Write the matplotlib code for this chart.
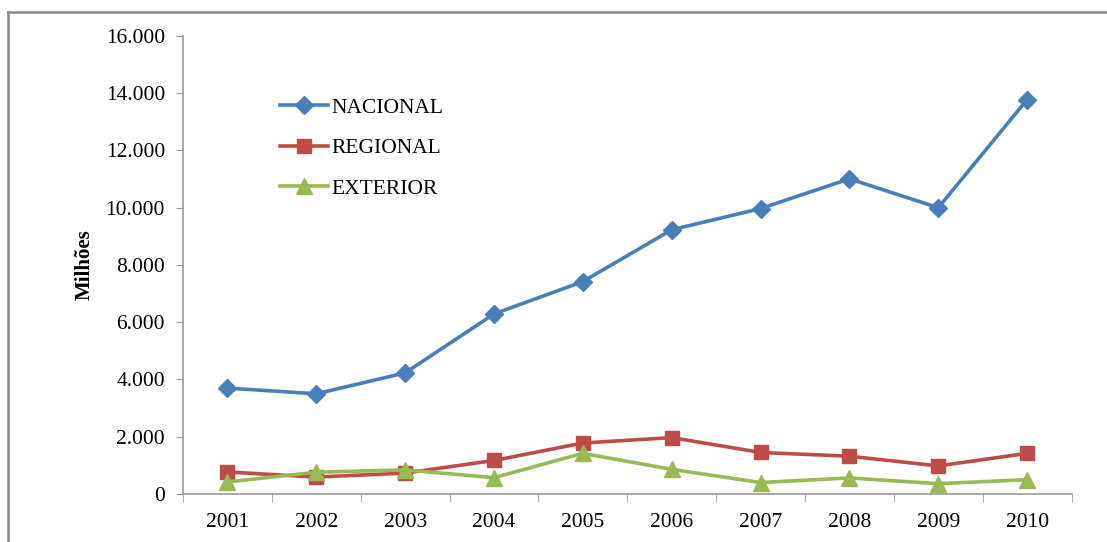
import numpy as np
import matplotlib.pyplot as plt
from matplotlib.ticker import FuncFormatter, FixedLocator
from matplotlib.lines import Line2D

# dados (milhões)
anos = ["2001", "2002", "2003", "2004", "2005", "2006", "2007", "2008", "2009", "2010"]
nacional = [3700, 3500, 4230, 6290, 7420, 9230, 9970, 11010, 10000, 13780]
regional = [770, 590, 730, 1170, 1780, 1970, 1450, 1320, 980, 1420]
exterior = [420, 760, 840, 570, 1420, 860, 400, 560, 360, 500]

plt.rcParams['font.family'] = ['Liberation Serif', 'DejaVu Serif']

fig = plt.figure(figsize=(11.07, 5.42), dpi=100)
ax = fig.add_axes([0.1653, 0.0886, 0.8027, 0.845])

x = np.arange(len(anos))
ax.plot(x, nacional, color="#4A7EBB", lw=2.6, marker="D", ms=9.5, label="NACIONAL")
ax.plot(x, regional, color="#BE4B48", lw=2.6, marker="s", ms=10, label="REGIONAL")
ax.plot(x, exterior, color="#98B954", lw=2.6, marker="^", ms=11, label="EXTERIOR")

ax.set_xlim(-0.5, len(anos) - 0.5)
ax.set_ylim(0, 16000)
ax.set_yticks(np.arange(0, 16001, 2000))
ax.yaxis.set_major_formatter(FuncFormatter(lambda v, p: f"{int(v):,}".replace(",", ".")))

ax.set_xticks(x)
ax.set_xticklabels(anos)
ax.xaxis.set_minor_locator(FixedLocator(np.arange(-0.5, len(anos), 1.0)))
ax.tick_params(axis="x", which="major", length=0, pad=14, labelsize=15.5)
ax.tick_params(axis="x", which="minor", length=6, color="#999999", direction="out")
ax.tick_params(axis="y", length=5, color="#999999", direction="out", pad=8, labelsize=15.5)

for s in ["top", "right"]:
    ax.spines[s].set_visible(False)
for s in ["left", "bottom"]:
    ax.spines[s].set_color("#999999")
    ax.spines[s].set_linewidth(1.2)

ax.set_ylabel("Milhões", fontsize=15, fontweight="bold", labelpad=8)

ax.legend(loc="upper left", bbox_to_anchor=(0.1, 0.884), frameon=False,
          fontsize=15.5, handlelength=2.2, handletextpad=0.15, labelspacing=0.95,
          borderaxespad=0)

# moldura do gráfico
fig.add_artist(Line2D([0.0072, 0.0072], [0, 0.978], color="#888888", lw=1.8,
                      transform=fig.transFigure))
fig.add_artist(Line2D([0.0072, 1], [0.978, 0.978], color="#888888", lw=1.8,
                      transform=fig.transFigure))

fig.savefig("out.png", dpi=100)
